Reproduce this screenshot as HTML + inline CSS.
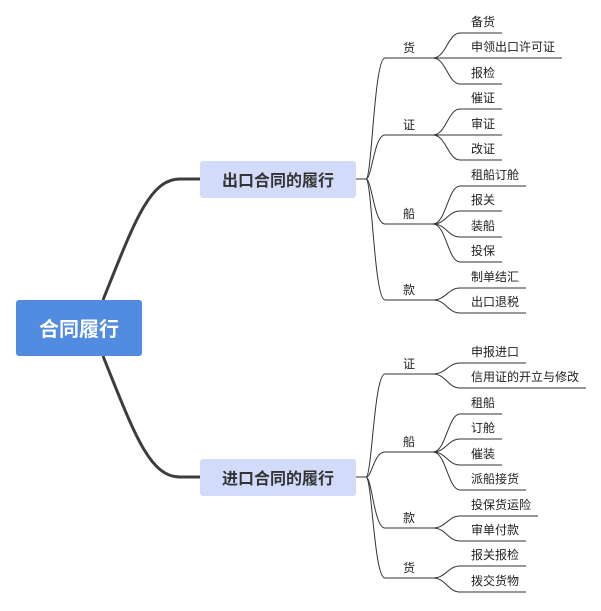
<!DOCTYPE html>
<html><head><meta charset="utf-8"><style>
html,body{margin:0;padding:0;background:#fff;}
svg{display:block;}
text{font-family:"Liberation Sans","Noto Sans CJK SC",sans-serif;}
</style></head><body>
<svg id="s" width="601" height="611" viewBox="0 0 601 611" xmlns="http://www.w3.org/2000/svg">
<path d="M103,300 C135,220 150,179 180,179 L200,179" fill="none" stroke="#3d3d3d" stroke-width="3"/>
<path d="M103,356 C135,436 150,477 180,477 L200,477" fill="none" stroke="#3d3d3d" stroke-width="3"/>
<rect x="16" y="300" width="126" height="56" rx="3" fill="#518ce0"/>
<text x="79" y="336" font-size="20" font-weight="bold" fill="#fff" text-anchor="middle">合同履行</text>
<rect x="200" y="161" width="156" height="37" rx="3" fill="#d3dbfb"/>
<text x="278" y="186" font-size="16" font-weight="bold" fill="#333" text-anchor="middle">出口合同的履行</text>
<rect x="200" y="459" width="156" height="37" rx="3" fill="#d3dbfb"/>
<text x="278" y="484" font-size="16" font-weight="bold" fill="#333" text-anchor="middle">进口合同的履行</text>
<g id="g" fill="none" stroke="#333" stroke-width="1"></g>
<g id="t" font-size="12" fill="#222"></g>
</svg>
<script>
var g=document.getElementById('g'),t=document.getElementById('t'),NS='http://www.w3.org/2000/svg';
function p(d){var e=document.createElementNS(NS,'path');e.setAttribute('d',d);g.appendChild(e);}
function tx(x,y,s){var e=document.createElementNS(NS,'text');e.setAttribute('x',x);e.setAttribute('y',y);e.textContent=s;t.appendChild(e);}
var data=[
 [179,[['货',58,[['备货',33],['申领出口许可证',58],['报检',84]]],
       ['证',135,[['催证',109],['审证',135],['改证',160]]],
       ['船',224,[['租船订舱',186],['报关',211],['装船',237],['投保',262]]],
       ['款',300,[['制单结汇',288],['出口退税',313]]]]],
 [477,[['证',374,[['申报进口',363],['信用证的开立与修改',388]]],
       ['船',452,[['租船',414],['订舱',439],['催装',465],['派船接货',490]]],
       ['款',528,[['投保货运险',516],['审单付款',541]]],
       ['货',578,[['报关报检',566],['拨交货物',592]]]]]
];
data.forEach(function(b){
 var y0=b[0];
 p('M356,'+y0+' L366,'+y0);
 b[1].forEach(function(l){
  var y=l[1];
  p('M366,'+y0+' C372,'+y0+' 374,'+y+' 385,'+y+' L433,'+y);
  tx(403,y-6,l[0]);
  l[2].forEach(function(f){
   var fy=f[1],w=f[0].length*12+10;
   p('M433,'+y+' C446,'+y+' 448,'+fy+' 460,'+fy+' L'+(468+w)+','+fy);
   tx(471,fy-7,f[0]);
  });
 });
});
</script>
</body></html>
